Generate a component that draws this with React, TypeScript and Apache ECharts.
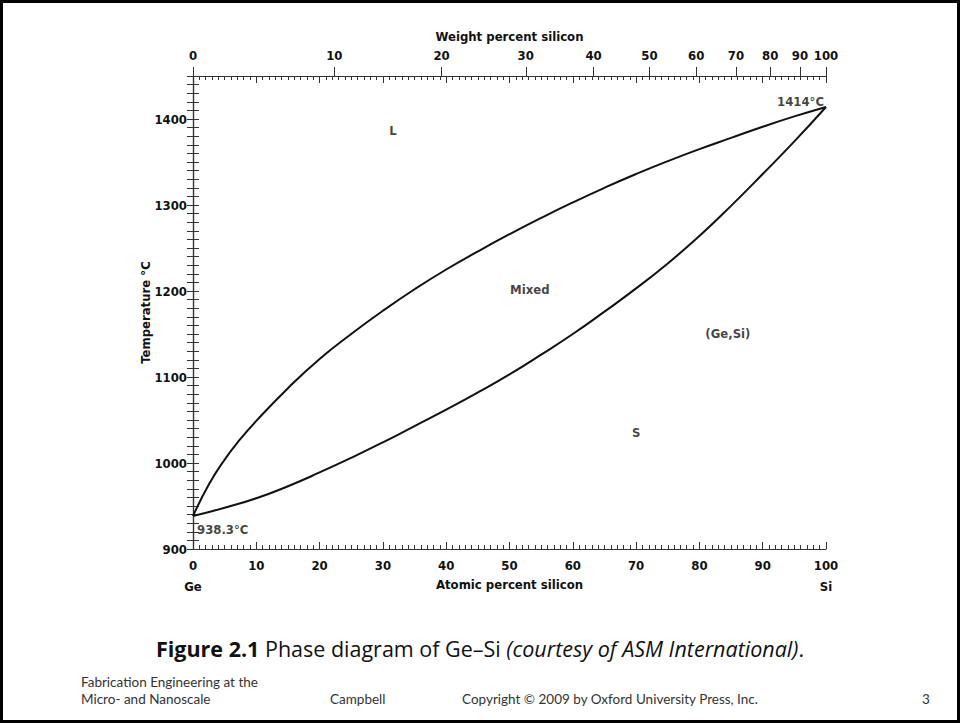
import React, { useEffect, useRef } from 'react';
import * as echarts from 'echarts';

// ---- data ----
const atomicTicks = [0, 10, 20, 30, 40, 50, 60, 70, 80, 90, 100];
const weightTicks = [0, 10, 20, 30, 40, 50, 60, 70, 80, 90, 100];
const tempTicks = [900, 1000, 1100, 1200, 1300, 1400];

const liquidusAt = [0, 2.5, 5, 7.5, 10, 15, 20, 25, 30, 35, 40, 45, 50, 55, 60, 65, 70, 75, 80, 85, 90, 95, 100];
const liquidusT = [938.3, 975, 1004, 1028, 1049, 1087, 1121, 1150, 1177, 1202, 1225, 1246, 1266, 1285, 1303, 1320, 1336, 1351, 1365, 1378, 1391, 1403, 1414];

const solidusAt = [0, 5, 10, 15, 20, 25, 30, 35, 40, 45, 50, 55, 60, 65, 70, 75, 80, 85, 90, 95, 100];
const solidusT = [938.3, 948, 959, 973, 989, 1006, 1024, 1043, 1062, 1082, 1103, 1126, 1150, 1176, 1203, 1232, 1264, 1299, 1336, 1374, 1414];

const regionLabels = ['L', 'Mixed', '(Ge,Si)', 'S'];
const regionAt = [31.6, 53.2, 84.5, 70];
const regionT = [1387, 1202, 1151, 1036];

const meltLabels = ['938.3°C', '1414°C'];
const meltAt = [0, 100];
const meltT = [938.3, 1414];

const xName = 'Atomic percent silicon';
const x2Name = 'Weight percent silicon';
const yName = 'Temperature °C';
const leftElement = 'Ge';
const rightElement = 'Si';

// molar masses used to place the weight-percent scale on the atomic-percent axis
const M_SI = 28.086;
const M_GE = 72.63;
function wtToAt(w: number) {
  if (w >= 100) return 100;
  if (w <= 0) return 0;
  const nSi = w / M_SI;
  const nGe = (100 - w) / M_GE;
  return (100 * nSi) / (nSi + nGe);
}

const FONT = "'Liberation Sans Narrow', 'Arial Narrow', 'DejaVu Sans Condensed', 'Liberation Sans', sans-serif";
const SLIDE_FONT = "'Open Sans', Lato, sans-serif";
const FOOT_FONT = "Lato, 'Open Sans', sans-serif";
const AX = '#333';

export default function App() {
  const ref = useRef<HTMLDivElement>(null);
  useEffect(() => {
    const chart = echarts.init(ref.current as HTMLDivElement, null, { renderer: 'svg' });
    const weightPos = weightTicks.map(wtToAt);
    const lbl = { fontFamily: FONT, fontWeight: 'bold' as const, fontSize: 13, color: '#111' };

    const option: any = {
      animation: false,
      backgroundColor: '#fff',
      grid: { left: 193, right: 134, top: 76, bottom: 174, containLabel: false },
      xAxis: [
        {
          type: 'value', position: 'bottom', min: 0, max: 100, interval: 10,
          axisLine: { show: true, lineStyle: { color: AX, width: 1.2 } },
          axisTick: { show: true, inside: true, length: 7, lineStyle: { color: AX } },
          minorTick: { show: true, splitNumber: 10, length: 4, lineStyle: { color: AX } },
          splitLine: { show: false },
          axisLabel: {
            margin: 8,
            formatter: (v: number) => {
              if (!atomicTicks.includes(v)) return '';
              if (v === 0) return `{v|0}\n{e|${leftElement}}`;
              if (v === 100) return `{v|100}\n{e|${rightElement}}`;
              return `{v|${v}}`;
            },
            rich: {
              v: { ...lbl, lineHeight: 16 },
              e: { ...lbl, lineHeight: 26 },
            },
          },
          name: xName, nameLocation: 'middle', nameGap: 29, nameMoveOverlap: false,
          nameTextStyle: { ...lbl },
        },
        {
          type: 'value', position: 'top', min: 0, max: 100, interval: 10,
          axisLine: { show: true, lineStyle: { color: AX, width: 1.2 } },
          axisTick: { show: true, inside: true, length: 7, lineStyle: { color: AX } },
          minorTick: { show: true, splitNumber: 10, length: 4, lineStyle: { color: AX } },
          splitLine: { show: false },
          axisLabel: { show: false },
        },
        {
          type: 'value', position: 'top', min: 0, max: 100,
          axisLine: { show: true, lineStyle: { color: AX, width: 1.2 } },
          axisTick: { show: true, inside: false, length: 9, customValues: weightPos, lineStyle: { color: AX } },
          splitLine: { show: false },
          axisLabel: {
            customValues: weightPos,
            margin: 14,
            ...lbl,
            formatter: (v: number) => {
              const i = weightPos.findIndex((p) => Math.abs(p - v) < 1e-6);
              return i >= 0 ? String(weightTicks[i]) : '';
            },
          },
          name: x2Name, nameLocation: 'middle', nameGap: 33, nameMoveOverlap: false,
          nameTextStyle: { ...lbl },
        },
      ],
      yAxis: [
        {
          type: 'value', position: 'left', min: 900, max: 1450, interval: 50,
          axisLine: { show: true, lineStyle: { color: AX, width: 1.2 } },
          axisTick: { show: true, inside: true, length: 6, lineStyle: { color: AX } },
          minorTick: { show: true, splitNumber: 5, length: 6, lineStyle: { color: AX } },
          splitLine: { show: false },
          axisLabel: {
            margin: 6, ...lbl,
            formatter: (v: number) => (tempTicks.includes(v) ? String(v) : ''),
          },
          name: yName, nameLocation: 'middle', nameGap: 41, nameMoveOverlap: false,
          nameTextStyle: { ...lbl },
        },
        {
          type: 'value', position: 'right', min: 900, max: 1450, interval: 50,
          axisLine: { show: true, lineStyle: { color: AX, width: 1.2 } },
          axisTick: { show: true, inside: true, length: 6, lineStyle: { color: AX } },
          minorTick: { show: true, splitNumber: 5, length: 6, lineStyle: { color: AX } },
          splitLine: { show: false },
          axisLabel: { show: false },
        },
      ],
      series: [
        {
          type: 'line', name: 'Liquidus', xAxisIndex: 0, yAxisIndex: 0,
          data: liquidusAt.map((x, i) => [x, liquidusT[i]]),
          smooth: 0.5, symbol: 'none',
          lineStyle: { color: '#111', width: 2 },
        },
        {
          type: 'line', name: 'Solidus', xAxisIndex: 0, yAxisIndex: 0,
          data: solidusAt.map((x, i) => [x, solidusT[i]]),
          smooth: 0.5, symbol: 'none',
          lineStyle: { color: '#111', width: 2 },
        },
        {
          type: 'scatter', name: 'Regions', xAxisIndex: 0, yAxisIndex: 0,
          symbolSize: 0, silent: true,
          data: regionLabels.map((n, i) => ({ name: n, value: [regionAt[i], regionT[i]] })),
          label: { show: true, position: 'inside', formatter: '{b}', ...lbl },
        },
        {
          type: 'scatter', name: 'Melting points', xAxisIndex: 0, yAxisIndex: 0,
          symbolSize: 0, silent: true,
          data: meltLabels.map((n, i) => ({
            name: n,
            value: [meltAt[i], meltT[i]],
            label: i === 0
              ? { position: 'right', distance: 4, offset: [0, 13] }
              : { position: 'left', distance: 2, offset: [0, -5] },
          })),
          label: { show: true, formatter: '{b}', ...lbl },
        },
      ],
      graphic: [
        {
          type: 'rect', silent: true, z: 100,
          shape: { x: 1.5, y: 1.5, width: 957, height: 720 },
          style: { fill: 'none', stroke: '#000', lineWidth: 3 },
        },
        {
          type: 'text', left: 'center', top: 637, silent: true,
          style: {
            text: '{b|Figure 2.1} Phase diagram of Ge–Si {i|(courtesy of ASM International)}.',
            fontFamily: SLIDE_FONT, fontSize: 21.5, fill: '#111',
            rich: {
              b: { fontFamily: SLIDE_FONT, fontSize: 21.5, fontWeight: 'bold', fill: '#111' },
              i: { fontFamily: SLIDE_FONT, fontSize: 21.5, fontStyle: 'italic', fill: '#111' },
            },
          },
        },
        {
          type: 'text', left: 81, top: 675, silent: true,
          style: { text: 'Fabrication Engineering at the', fontFamily: FOOT_FONT, fontSize: 13.5, fill: '#333' },
        },
        {
          type: 'text', left: 81, top: 692, silent: true,
          style: { text: 'Micro- and Nanoscale', fontFamily: FOOT_FONT, fontSize: 13.5, fill: '#333' },
        },
        {
          type: 'text', left: 330, top: 692, silent: true,
          style: { text: 'Campbell', fontFamily: FOOT_FONT, fontSize: 13.5, fill: '#333' },
        },
        {
          type: 'text', left: 462, top: 692, silent: true,
          style: { text: 'Copyright © 2009 by Oxford University Press, Inc.', fontFamily: FOOT_FONT, fontSize: 13.5, fill: '#333' },
        },
        {
          type: 'text', left: 922, top: 692, silent: true,
          style: { text: '3', fontFamily: FOOT_FONT, fontSize: 13.5, fill: '#333' },
        },
      ],
    };
    chart.setOption(option);
    return () => chart.dispose();
  }, []);
  return (
    <div
      ref={ref}
      style={{ position: 'fixed', left: 0, top: 0, width: 960, height: 723, background: '#fff' }}
    />
  );
}
